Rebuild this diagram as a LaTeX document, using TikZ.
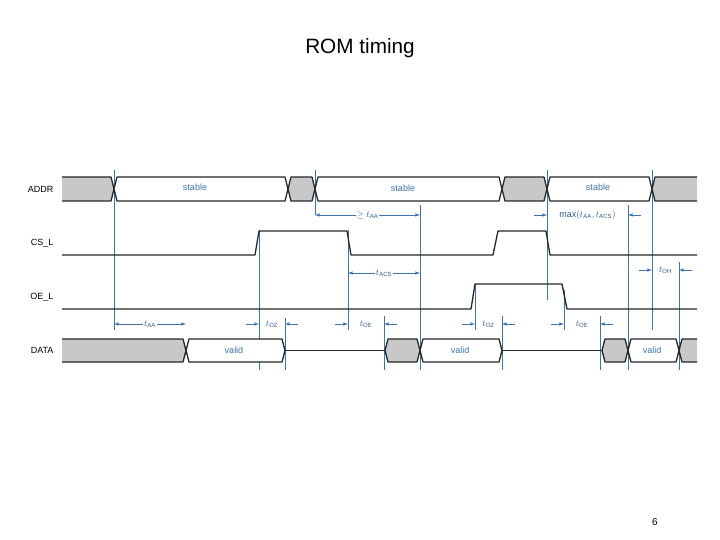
\documentclass[tikz,border=0pt]{standalone}
\usepackage{fontspec}
\setmainfont{Liberation Sans}
\usetikzlibrary{arrows}
\definecolor{tblue}{HTML}{3F74A8}
\definecolor{busgray}{HTML}{C8C8C8}
\tikzstyle{sig} = [draw=black!85, line width=1.3pt, line join=round]
\tikzstyle{guide} = [draw=tblue, line width=0.6pt]
\tikzstyle{dim} = [draw=tblue, line width=0.6pt, >=latex]
\tikzstyle{dimlabel} = [fill=white, text=tblue!80!black, inner sep=1pt, font=\small]
\tikzstyle{siglabel} = [anchor=east, font=\small]
\tikzstyle{buslabel} = [text=tblue, font=\small]
% hexagon bus segment: x1, x2, top, bottom, fill
\newcommand{\busseg}[5]{\draw[sig, fill=#5] ({#1},{(#3+#4)/2}) -- ({#1+3},#3) -- ({#2-3},#3) -- ({#2},{(#3+#4)/2}) -- ({#2-3},#4) -- ({#1+3},#4) -- cycle;}
% dimension with arrows pointing outward from the label
\newcommand{\dimin}[4]{\draw[dim, <->] (#1,#3) -- node[dimlabel] {#4} (#2,#3);}
% dimension with arrows pointing in from outside
\newcommand{\dimout}[4]{\draw[dim, ->] ({#1-13},#3) -- (#1,#3);
  \draw[dim, ->] ({#2+13},#3) -- (#2,#3);
  \node[dimlabel] at ({(#1+#2)/2},#3) {#4};}

\begin{document}
\begin{tikzpicture}[x=1pt, y=-1pt]
    \useasboundingbox (0,0) rectangle (720,540);
    \node[font=\huge] (title) at (360,48) {ROM timing};
    \node (page) at (655,522) {6};
    % signal names
    \node[siglabel] (addr) at (57,189) {ADDR};
    \node[siglabel] (csl) at (57,243) {CS\_L};
    \node[siglabel] (oel) at (57,297) {OE\_L};
    \node[siglabel] (data) at (57,350) {DATA};
    % guide lines
    \foreach \x/\ya/\yb in {114/170/330, 259/230/370, 285/318/370, 315/170/215,
        348/230/330, 384/316/370, 420/205/370, 475/284/330, 502/316/370,
        547/170/300, 564/290/330, 600/316/370, 628/205/370, 652/170/330, 679/262/370}
        \draw[guide] (\x,\ya) -- (\x,\yb);
    % signals
    \begin{scope}
        \clip (62,150) rectangle (697,380);
        \busseg{40}{114}{177}{201}{busgray}
        \busseg{114}{288}{177}{201}{white}
        \busseg{288}{315}{177}{201}{busgray}
        \busseg{315}{502}{177}{201}{white}
        \busseg{502}{547}{177}{201}{busgray}
        \busseg{547}{652}{177}{201}{white}
        \busseg{652}{720}{177}{201}{busgray}
        \busseg{40}{186}{339}{362}{busgray}
        \busseg{186}{285}{339}{362}{white}
        \busseg{385}{420}{339}{362}{busgray}
        \busseg{420}{502}{339}{362}{white}
        \busseg{602}{628}{339}{362}{busgray}
        \busseg{628}{679}{339}{362}{white}
        \busseg{679}{720}{339}{362}{busgray}
        \draw[sig] (285,350.5) -- (385,350.5);
        \draw[sig] (502,350.5) -- (602,350.5);
        \draw[sig] (62,255) -- (255,255) -- (259,231) -- (347,231) -- (351,255)
            -- (493,255) -- (498,231) -- (546,231) -- (550,255) -- (697,255);
        \draw[sig] (62,309) -- (471,309) -- (475,284) -- (562,284) -- (567,309) -- (697,309);
    \end{scope}
    % bus texts
    \node[buslabel] (st1) at (195,187) {stable};
    \node[buslabel] (st2) at (403,188) {stable};
    \node[buslabel] (st3) at (598,187) {stable};
    \node[buslabel] (va1) at (234,350) {valid};
    \node[buslabel] (va2) at (460,350) {valid};
    \node[buslabel] (va3) at (652,350) {valid};
    % timing parameters
    \dimin{315}{420}{215}{$\geq t_{\mathrm{AA}}$}
    \dimout{547}{628}{215}{$\max(t_{\mathrm{AA}}, t_{\mathrm{ACS}})$}
    \dimin{348}{420}{273}{$t_{\mathrm{ACS}}$}
    \dimout{652}{679}{270}{$t_{\mathrm{OH}}$}
    \dimin{114}{186}{324}{$t_{\mathrm{AA}}$}
    \dimout{259}{285}{324}{$t_{\mathrm{OZ}}$}
    \dimout{348}{384}{324}{$t_{\mathrm{OE}}$}
    \dimout{475}{502}{324}{$t_{\mathrm{OZ}}$}
    \dimout{564}{600}{324}{$t_{\mathrm{OE}}$}
\end{tikzpicture}
\end{document}
